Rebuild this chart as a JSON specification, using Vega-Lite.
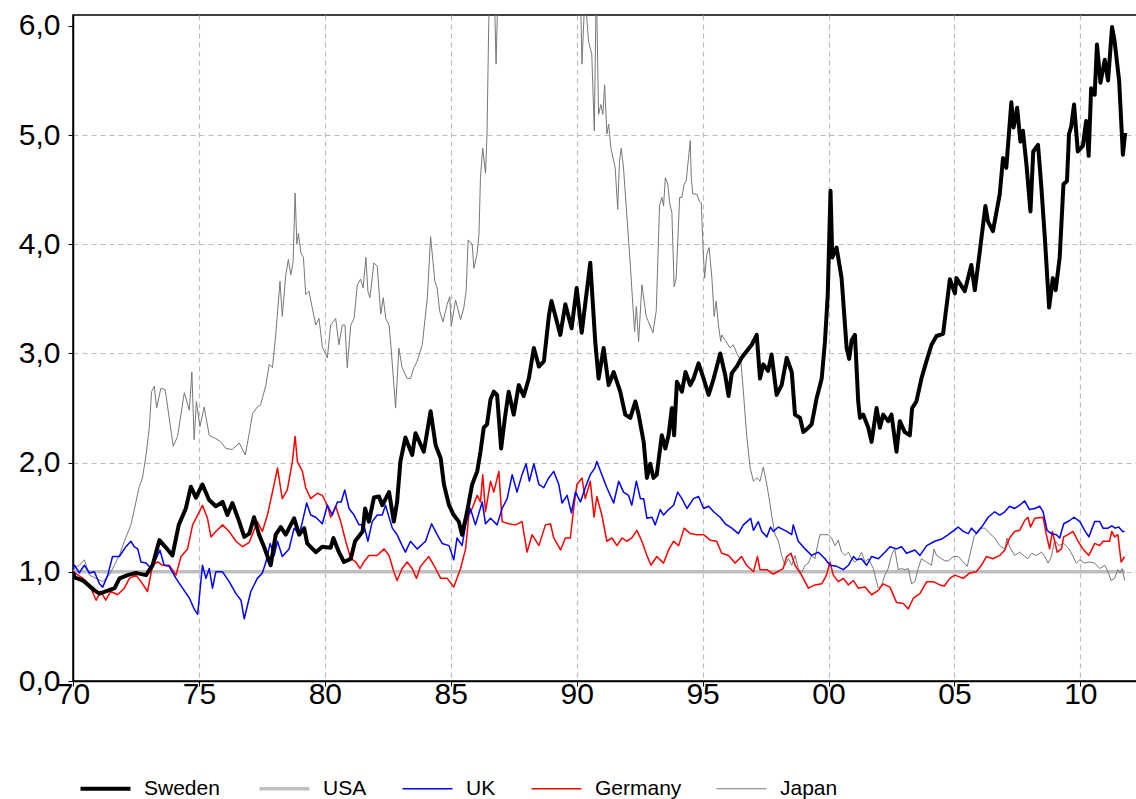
{
  "$schema": "https://vega.github.io/schema/vega-lite/v6.json",
  "width": 1064,
  "height": 666,
  "padding": {"left": 0, "top": 10, "right": 0, "bottom": 0},
  "background": "white",
  "config": {
    "font": "Liberation Sans",
    "view": {"stroke": "black", "strokeWidth": 1.5},
    "axis": {"domainColor": "black", "domainWidth": 1.5, "tickColor": "black", "tickSize": 5, "labelColor": "black", "labelFontSize": 30, "labelFont": "Liberation Sans", "gridColor": "#bdbdbd", "gridDash": [5, 4], "gridWidth": 1.2},
    "legend": {"orient": "none", "legendX": 22, "legendY": 763, "direction": "horizontal", "symbolType": "stroke", "symbolSize": 2500, "labelFontSize": 21, "labelFont": "Liberation Sans", "labelColor": "black", "columnPadding": 32, "labelOffset": 28, "title": null}
  },
  "encoding": {
    "x": {"field": "year", "type": "quantitative", "scale": {"domain": [1970, 2012.25], "nice": false, "zero": false},
      "axis": {"title": null, "values": [1970, 1975, 1980, 1985, 1990, 1995, 2000, 2005, 2010], "labelExpr": "format(datum.value % 100, '02d')", "grid": true, "gridOpacity": {"condition": {"test": "datum.value == 1970", "value": 0}, "value": 1}, "labelPadding": -7, "labelFlush": false}},
    "y": {"field": "value", "type": "quantitative", "scale": {"domain": [0, 6.1], "nice": false, "zero": false},
      "axis": {"title": null, "values": [0, 1, 2, 3, 4, 5, 6], "labelExpr": "replace(format(datum.value, '.1f'), '.', ',')", "grid": true, "gridOpacity": {"condition": {"test": "datum.value == 0 || datum.value == 6", "value": 0}, "value": 1}, "minExtent": 73, "maxExtent": 73, "labelPadding": 8}}
  },
  "layer": [
    {
      "data": {"values": [{"year": 1970.0, "value": 1.0}, {"year": 1980.0, "value": 1.0}, {"year": 1990.0, "value": 1.0}, {"year": 2000.0, "value": 1.0}, {"year": 2011.78, "value": 1.0}]},
      "mark": {"type": "line", "clip": true, "strokeJoin": "round", "strokeWidth": 3.5},
      "encoding": {
        "color": {"datum": "USA", "type": "nominal", "scale": {"domain": ["Sweden", "USA", "UK", "Germany", "Japan"], "range": ["#000000", "#bfbfbf", "#0000ff", "#ff0000", "#777777"]},
          "legend": {"encode": {"symbols": {"update": {"strokeWidth": {"signal": "datum.value === 'Sweden' ? 4 : datum.value === 'USA' ? 3.5 : datum.value === 'Japan' ? 1 : 1.5"}}}}}}
      }
    },
    {
      "data": {"values": [
        {"year": 1970.0, "value": 1.0}, {"year": 1970.06, "value": 1.03}, {"year": 1970.25, "value": 1.06}, {"year": 1970.45, "value": 1.11}, {"year": 1970.65, "value": 0.97}, {"year": 1970.92, "value": 0.94}, {"year": 1971.18, "value": 0.91}, {"year": 1971.44, "value": 0.97}, {"year": 1971.64, "value": 1.06}, {"year": 1971.84, "value": 1.15}, {"year": 1972.04, "value": 1.28}, {"year": 1972.3, "value": 1.43}, {"year": 1972.5, "value": 1.64}, {"year": 1972.63, "value": 1.78}, {"year": 1972.76, "value": 1.86}, {"year": 1972.9, "value": 2.07}, {"year": 1973.03, "value": 2.32}, {"year": 1973.12, "value": 2.65}, {"year": 1973.23, "value": 2.7}, {"year": 1973.32, "value": 2.5}, {"year": 1973.49, "value": 2.68}, {"year": 1973.66, "value": 2.67}, {"year": 1973.82, "value": 2.41}, {"year": 1973.98, "value": 2.15}, {"year": 1974.15, "value": 2.24}, {"year": 1974.42, "value": 2.64}, {"year": 1974.62, "value": 2.48}, {"year": 1974.72, "value": 2.83}, {"year": 1974.81, "value": 2.21}, {"year": 1974.9, "value": 2.56}, {"year": 1975.04, "value": 2.33}, {"year": 1975.21, "value": 2.51}, {"year": 1975.41, "value": 2.25}, {"year": 1975.67, "value": 2.22}, {"year": 1975.87, "value": 2.19}, {"year": 1976.07, "value": 2.13}, {"year": 1976.33, "value": 2.12}, {"year": 1976.6, "value": 2.18}, {"year": 1976.84, "value": 2.07}, {"year": 1977.0, "value": 2.27}, {"year": 1977.13, "value": 2.45}, {"year": 1977.32, "value": 2.51}, {"year": 1977.45, "value": 2.53}, {"year": 1977.66, "value": 2.71}, {"year": 1977.79, "value": 2.9}, {"year": 1977.92, "value": 2.87}, {"year": 1978.05, "value": 3.17}, {"year": 1978.22, "value": 3.66}, {"year": 1978.31, "value": 3.34}, {"year": 1978.45, "value": 3.72}, {"year": 1978.55, "value": 3.86}, {"year": 1978.65, "value": 3.72}, {"year": 1978.74, "value": 3.84}, {"year": 1978.82, "value": 4.47}, {"year": 1978.89, "value": 4.0}, {"year": 1978.95, "value": 4.1}, {"year": 1979.05, "value": 3.92}, {"year": 1979.15, "value": 3.88}, {"year": 1979.24, "value": 3.54}, {"year": 1979.37, "value": 3.57}, {"year": 1979.5, "value": 3.42}, {"year": 1979.64, "value": 3.26}, {"year": 1979.77, "value": 3.32}, {"year": 1979.9, "value": 3.06}, {"year": 1980.1, "value": 2.96}, {"year": 1980.23, "value": 3.26}, {"year": 1980.43, "value": 3.32}, {"year": 1980.56, "value": 3.08}, {"year": 1980.69, "value": 3.26}, {"year": 1980.8, "value": 3.26}, {"year": 1980.89, "value": 2.87}, {"year": 1981.03, "value": 3.26}, {"year": 1981.16, "value": 3.32}, {"year": 1981.29, "value": 3.63}, {"year": 1981.42, "value": 3.68}, {"year": 1981.52, "value": 3.6}, {"year": 1981.63, "value": 3.88}, {"year": 1981.71, "value": 3.57}, {"year": 1981.79, "value": 3.51}, {"year": 1981.95, "value": 3.83}, {"year": 1982.08, "value": 3.8}, {"year": 1982.22, "value": 3.36}, {"year": 1982.32, "value": 3.51}, {"year": 1982.42, "value": 3.32}, {"year": 1982.55, "value": 3.26}, {"year": 1982.62, "value": 3.08}, {"year": 1982.81, "value": 2.5}, {"year": 1982.94, "value": 3.05}, {"year": 1983.07, "value": 2.87}, {"year": 1983.27, "value": 2.77}, {"year": 1983.4, "value": 2.77}, {"year": 1983.54, "value": 2.87}, {"year": 1983.67, "value": 2.93}, {"year": 1983.87, "value": 3.08}, {"year": 1984.07, "value": 3.51}, {"year": 1984.2, "value": 4.07}, {"year": 1984.37, "value": 3.66}, {"year": 1984.46, "value": 3.6}, {"year": 1984.56, "value": 3.39}, {"year": 1984.69, "value": 3.29}, {"year": 1984.86, "value": 3.45}, {"year": 1984.96, "value": 3.52}, {"year": 1985.02, "value": 3.25}, {"year": 1985.19, "value": 3.49}, {"year": 1985.39, "value": 3.31}, {"year": 1985.52, "value": 3.42}, {"year": 1985.61, "value": 3.57}, {"year": 1985.69, "value": 4.04}, {"year": 1985.85, "value": 4.0}, {"year": 1985.92, "value": 3.78}, {"year": 1986.05, "value": 3.92}, {"year": 1986.12, "value": 4.09}, {"year": 1986.18, "value": 4.61}, {"year": 1986.27, "value": 4.88}, {"year": 1986.38, "value": 4.65}, {"year": 1986.44, "value": 5.01}, {"year": 1986.51, "value": 6.05}, {"year": 1986.6, "value": 6.6}, {"year": 1986.72, "value": 6.4}, {"year": 1986.8, "value": 5.65}, {"year": 1986.9, "value": 6.6}, {"year": 1987.2, "value": 7.2}, {"year": 1987.6, "value": 7.8}, {"year": 1988.0, "value": 8.0}, {"year": 1988.5, "value": 8.3}, {"year": 1989.0, "value": 8.6}, {"year": 1989.5, "value": 8.9}, {"year": 1989.9, "value": 8.4}, {"year": 1990.1, "value": 6.9}, {"year": 1990.21, "value": 5.65}, {"year": 1990.33, "value": 6.3}, {"year": 1990.47, "value": 5.86}, {"year": 1990.6, "value": 5.74}, {"year": 1990.7, "value": 5.04}, {"year": 1990.78, "value": 6.4}, {"year": 1990.87, "value": 5.19}, {"year": 1990.96, "value": 5.28}, {"year": 1991.04, "value": 5.19}, {"year": 1991.11, "value": 5.46}, {"year": 1991.2, "value": 5.01}, {"year": 1991.27, "value": 5.1}, {"year": 1991.36, "value": 4.88}, {"year": 1991.53, "value": 4.7}, {"year": 1991.63, "value": 4.32}, {"year": 1991.7, "value": 4.76}, {"year": 1991.77, "value": 4.88}, {"year": 1991.86, "value": 4.7}, {"year": 1991.99, "value": 4.27}, {"year": 1992.13, "value": 3.81}, {"year": 1992.23, "value": 3.45}, {"year": 1992.3, "value": 3.2}, {"year": 1992.37, "value": 3.43}, {"year": 1992.46, "value": 3.11}, {"year": 1992.59, "value": 3.63}, {"year": 1992.76, "value": 3.34}, {"year": 1992.85, "value": 3.29}, {"year": 1993.03, "value": 3.19}, {"year": 1993.16, "value": 3.39}, {"year": 1993.29, "value": 4.35}, {"year": 1993.38, "value": 4.43}, {"year": 1993.45, "value": 4.35}, {"year": 1993.52, "value": 4.61}, {"year": 1993.62, "value": 4.55}, {"year": 1993.69, "value": 4.38}, {"year": 1993.78, "value": 4.29}, {"year": 1993.87, "value": 3.61}, {"year": 1993.95, "value": 3.69}, {"year": 1994.09, "value": 4.43}, {"year": 1994.18, "value": 4.43}, {"year": 1994.27, "value": 4.55}, {"year": 1994.35, "value": 4.58}, {"year": 1994.51, "value": 4.95}, {"year": 1994.55, "value": 4.61}, {"year": 1994.61, "value": 4.46}, {"year": 1994.77, "value": 4.46}, {"year": 1994.88, "value": 4.39}, {"year": 1994.95, "value": 4.38}, {"year": 1995.0, "value": 4.06}, {"year": 1995.08, "value": 3.69}, {"year": 1995.17, "value": 3.91}, {"year": 1995.26, "value": 3.97}, {"year": 1995.37, "value": 3.69}, {"year": 1995.46, "value": 3.34}, {"year": 1995.54, "value": 3.48}, {"year": 1995.63, "value": 3.26}, {"year": 1995.72, "value": 3.11}, {"year": 1995.76, "value": 3.17}, {"year": 1995.9, "value": 3.12}, {"year": 1996.09, "value": 3.05}, {"year": 1996.22, "value": 3.08}, {"year": 1996.36, "value": 3.0}, {"year": 1996.52, "value": 2.93}, {"year": 1996.62, "value": 2.65}, {"year": 1996.75, "value": 2.25}, {"year": 1996.89, "value": 1.95}, {"year": 1997.02, "value": 1.83}, {"year": 1997.15, "value": 1.86}, {"year": 1997.28, "value": 1.83}, {"year": 1997.41, "value": 1.96}, {"year": 1997.55, "value": 1.8}, {"year": 1997.66, "value": 1.65}, {"year": 1997.74, "value": 1.52}, {"year": 1997.88, "value": 1.34}, {"year": 1998.01, "value": 1.28}, {"year": 1998.14, "value": 1.15}, {"year": 1998.27, "value": 1.06}, {"year": 1998.41, "value": 1.12}, {"year": 1998.54, "value": 1.06}, {"year": 1998.67, "value": 1.15}, {"year": 1998.8, "value": 1.03}, {"year": 1998.93, "value": 0.99}, {"year": 1999.07, "value": 1.06}, {"year": 1999.2, "value": 1.08}, {"year": 1999.33, "value": 1.15}, {"year": 1999.46, "value": 1.12}, {"year": 1999.6, "value": 1.28}, {"year": 1999.66, "value": 1.34}, {"year": 1999.8, "value": 1.34}, {"year": 1999.99, "value": 1.34}, {"year": 2000.12, "value": 1.31}, {"year": 2000.26, "value": 1.24}, {"year": 2000.39, "value": 1.29}, {"year": 2000.52, "value": 1.18}, {"year": 2000.66, "value": 1.15}, {"year": 2000.79, "value": 1.18}, {"year": 2000.92, "value": 1.12}, {"year": 2001.05, "value": 1.09}, {"year": 2001.18, "value": 1.12}, {"year": 2001.31, "value": 1.18}, {"year": 2001.45, "value": 1.09}, {"year": 2001.58, "value": 1.12}, {"year": 2001.78, "value": 1.03}, {"year": 2001.91, "value": 0.91}, {"year": 2001.98, "value": 0.85}, {"year": 2002.11, "value": 0.88}, {"year": 2002.24, "value": 0.97}, {"year": 2002.37, "value": 1.03}, {"year": 2002.5, "value": 1.15}, {"year": 2002.63, "value": 1.21}, {"year": 2002.77, "value": 1.02}, {"year": 2002.9, "value": 1.03}, {"year": 2003.03, "value": 1.02}, {"year": 2003.17, "value": 1.03}, {"year": 2003.3, "value": 0.89}, {"year": 2003.43, "value": 0.91}, {"year": 2003.56, "value": 1.03}, {"year": 2003.69, "value": 1.12}, {"year": 2003.89, "value": 1.09}, {"year": 2004.09, "value": 1.06}, {"year": 2004.19, "value": 1.21}, {"year": 2004.29, "value": 1.15}, {"year": 2004.49, "value": 1.12}, {"year": 2004.62, "value": 1.1}, {"year": 2004.76, "value": 1.1}, {"year": 2004.96, "value": 1.14}, {"year": 2005.15, "value": 1.14}, {"year": 2005.35, "value": 1.09}, {"year": 2005.51, "value": 1.05}, {"year": 2005.61, "value": 1.15}, {"year": 2005.78, "value": 1.32}, {"year": 2005.9, "value": 1.37}, {"year": 2006.01, "value": 1.4}, {"year": 2006.21, "value": 1.4}, {"year": 2006.41, "value": 1.35}, {"year": 2006.6, "value": 1.31}, {"year": 2006.8, "value": 1.24}, {"year": 2007.0, "value": 1.21}, {"year": 2007.09, "value": 1.31}, {"year": 2007.19, "value": 1.23}, {"year": 2007.39, "value": 1.15}, {"year": 2007.59, "value": 1.18}, {"year": 2007.79, "value": 1.14}, {"year": 2007.92, "value": 1.12}, {"year": 2008.06, "value": 1.17}, {"year": 2008.26, "value": 1.15}, {"year": 2008.46, "value": 1.18}, {"year": 2008.59, "value": 1.14}, {"year": 2008.72, "value": 1.08}, {"year": 2008.85, "value": 1.14}, {"year": 2008.98, "value": 1.29}, {"year": 2009.15, "value": 1.24}, {"year": 2009.34, "value": 1.26}, {"year": 2009.55, "value": 1.21}, {"year": 2009.71, "value": 1.14}, {"year": 2009.84, "value": 1.08}, {"year": 2009.98, "value": 1.11}, {"year": 2010.17, "value": 1.08}, {"year": 2010.37, "value": 1.09}, {"year": 2010.57, "value": 1.08}, {"year": 2010.77, "value": 1.03}, {"year": 2010.97, "value": 1.06}, {"year": 2011.1, "value": 1.0}, {"year": 2011.22, "value": 0.92}, {"year": 2011.36, "value": 0.94}, {"year": 2011.49, "value": 1.02}, {"year": 2011.58, "value": 0.99}, {"year": 2011.66, "value": 1.03}, {"year": 2011.76, "value": 0.92}
      ]},
      "mark": {"type": "line", "clip": true, "strokeJoin": "round", "strokeWidth": 1},
      "encoding": {"color": {"datum": "Japan", "type": "nominal"}}
    },
    {
      "data": {"values": [
        {"year": 1970.0, "value": 1.0}, {"year": 1970.4, "value": 0.94}, {"year": 1970.65, "value": 0.88}, {"year": 1970.92, "value": 0.74}, {"year": 1971.1, "value": 0.82}, {"year": 1971.3, "value": 0.74}, {"year": 1971.5, "value": 0.82}, {"year": 1971.77, "value": 0.79}, {"year": 1972.04, "value": 0.85}, {"year": 1972.24, "value": 0.94}, {"year": 1972.5, "value": 0.97}, {"year": 1972.7, "value": 0.91}, {"year": 1972.96, "value": 0.82}, {"year": 1973.16, "value": 1.06}, {"year": 1973.36, "value": 1.09}, {"year": 1973.56, "value": 1.06}, {"year": 1973.82, "value": 1.06}, {"year": 1974.09, "value": 0.97}, {"year": 1974.29, "value": 1.14}, {"year": 1974.55, "value": 1.21}, {"year": 1974.75, "value": 1.43}, {"year": 1974.95, "value": 1.52}, {"year": 1975.14, "value": 1.61}, {"year": 1975.34, "value": 1.49}, {"year": 1975.48, "value": 1.32}, {"year": 1975.67, "value": 1.37}, {"year": 1975.94, "value": 1.43}, {"year": 1976.2, "value": 1.37}, {"year": 1976.47, "value": 1.28}, {"year": 1976.73, "value": 1.23}, {"year": 1977.0, "value": 1.27}, {"year": 1977.32, "value": 1.46}, {"year": 1977.52, "value": 1.37}, {"year": 1977.72, "value": 1.52}, {"year": 1977.92, "value": 1.73}, {"year": 1978.12, "value": 1.95}, {"year": 1978.31, "value": 1.67}, {"year": 1978.51, "value": 1.75}, {"year": 1978.71, "value": 2.01}, {"year": 1978.82, "value": 2.24}, {"year": 1978.91, "value": 2.01}, {"year": 1979.11, "value": 1.92}, {"year": 1979.24, "value": 1.77}, {"year": 1979.44, "value": 1.67}, {"year": 1979.7, "value": 1.72}, {"year": 1979.9, "value": 1.7}, {"year": 1980.1, "value": 1.61}, {"year": 1980.23, "value": 1.5}, {"year": 1980.43, "value": 1.6}, {"year": 1980.63, "value": 1.46}, {"year": 1980.83, "value": 1.28}, {"year": 1981.03, "value": 1.12}, {"year": 1981.23, "value": 1.09}, {"year": 1981.4, "value": 1.03}, {"year": 1981.55, "value": 1.09}, {"year": 1981.75, "value": 1.15}, {"year": 1982.08, "value": 1.15}, {"year": 1982.35, "value": 1.21}, {"year": 1982.55, "value": 1.15}, {"year": 1982.74, "value": 1.0}, {"year": 1982.87, "value": 0.92}, {"year": 1983.07, "value": 1.03}, {"year": 1983.27, "value": 1.09}, {"year": 1983.47, "value": 1.03}, {"year": 1983.64, "value": 0.94}, {"year": 1983.8, "value": 1.05}, {"year": 1984.13, "value": 1.14}, {"year": 1984.33, "value": 1.06}, {"year": 1984.6, "value": 0.94}, {"year": 1984.86, "value": 0.94}, {"year": 1985.12, "value": 0.86}, {"year": 1985.39, "value": 1.03}, {"year": 1985.59, "value": 1.21}, {"year": 1985.72, "value": 1.52}, {"year": 1985.85, "value": 1.58}, {"year": 1986.05, "value": 1.7}, {"year": 1986.18, "value": 1.64}, {"year": 1986.27, "value": 1.89}, {"year": 1986.38, "value": 1.55}, {"year": 1986.58, "value": 1.83}, {"year": 1986.71, "value": 1.73}, {"year": 1986.91, "value": 1.92}, {"year": 1987.04, "value": 1.46}, {"year": 1987.3, "value": 1.44}, {"year": 1987.57, "value": 1.43}, {"year": 1987.83, "value": 1.46}, {"year": 1988.03, "value": 1.18}, {"year": 1988.23, "value": 1.34}, {"year": 1988.5, "value": 1.24}, {"year": 1988.76, "value": 1.43}, {"year": 1988.96, "value": 1.44}, {"year": 1989.09, "value": 1.31}, {"year": 1989.36, "value": 1.2}, {"year": 1989.55, "value": 1.31}, {"year": 1989.75, "value": 1.31}, {"year": 1989.88, "value": 1.58}, {"year": 1990.01, "value": 1.8}, {"year": 1990.21, "value": 1.86}, {"year": 1990.34, "value": 1.67}, {"year": 1990.54, "value": 1.83}, {"year": 1990.69, "value": 1.5}, {"year": 1990.8, "value": 1.69}, {"year": 1991.0, "value": 1.52}, {"year": 1991.2, "value": 1.28}, {"year": 1991.4, "value": 1.31}, {"year": 1991.6, "value": 1.24}, {"year": 1991.8, "value": 1.31}, {"year": 1991.99, "value": 1.28}, {"year": 1992.19, "value": 1.31}, {"year": 1992.39, "value": 1.38}, {"year": 1992.59, "value": 1.28}, {"year": 1992.79, "value": 1.15}, {"year": 1992.95, "value": 1.06}, {"year": 1993.18, "value": 1.14}, {"year": 1993.45, "value": 1.08}, {"year": 1993.65, "value": 1.2}, {"year": 1993.85, "value": 1.28}, {"year": 1994.05, "value": 1.24}, {"year": 1994.27, "value": 1.4}, {"year": 1994.51, "value": 1.35}, {"year": 1994.77, "value": 1.34}, {"year": 1995.04, "value": 1.34}, {"year": 1995.3, "value": 1.29}, {"year": 1995.56, "value": 1.28}, {"year": 1995.76, "value": 1.17}, {"year": 1996.03, "value": 1.15}, {"year": 1996.29, "value": 1.08}, {"year": 1996.55, "value": 1.14}, {"year": 1996.75, "value": 1.06}, {"year": 1997.02, "value": 1.0}, {"year": 1997.18, "value": 1.14}, {"year": 1997.28, "value": 1.02}, {"year": 1997.55, "value": 1.02}, {"year": 1997.81, "value": 0.98}, {"year": 1998.2, "value": 1.03}, {"year": 1998.34, "value": 1.14}, {"year": 1998.51, "value": 1.17}, {"year": 1998.67, "value": 1.06}, {"year": 1998.93, "value": 0.97}, {"year": 1999.2, "value": 0.85}, {"year": 1999.46, "value": 0.88}, {"year": 1999.73, "value": 0.89}, {"year": 1999.92, "value": 0.97}, {"year": 2000.06, "value": 1.09}, {"year": 2000.19, "value": 0.97}, {"year": 2000.39, "value": 0.91}, {"year": 2000.59, "value": 0.94}, {"year": 2000.79, "value": 0.88}, {"year": 2000.99, "value": 0.92}, {"year": 2001.18, "value": 0.85}, {"year": 2001.45, "value": 0.86}, {"year": 2001.71, "value": 0.79}, {"year": 2001.98, "value": 0.83}, {"year": 2002.17, "value": 0.89}, {"year": 2002.44, "value": 0.86}, {"year": 2002.7, "value": 0.72}, {"year": 2002.97, "value": 0.71}, {"year": 2003.17, "value": 0.66}, {"year": 2003.37, "value": 0.76}, {"year": 2003.63, "value": 0.8}, {"year": 2003.9, "value": 0.91}, {"year": 2004.16, "value": 0.91}, {"year": 2004.42, "value": 0.88}, {"year": 2004.6, "value": 0.87}, {"year": 2004.82, "value": 0.94}, {"year": 2005.02, "value": 0.97}, {"year": 2005.35, "value": 0.94}, {"year": 2005.61, "value": 0.99}, {"year": 2005.87, "value": 1.0}, {"year": 2006.07, "value": 1.06}, {"year": 2006.27, "value": 1.14}, {"year": 2006.53, "value": 1.12}, {"year": 2006.8, "value": 1.15}, {"year": 2007.0, "value": 1.2}, {"year": 2007.19, "value": 1.31}, {"year": 2007.39, "value": 1.37}, {"year": 2007.59, "value": 1.38}, {"year": 2007.79, "value": 1.47}, {"year": 2007.92, "value": 1.5}, {"year": 2008.02, "value": 1.41}, {"year": 2008.19, "value": 1.49}, {"year": 2008.52, "value": 1.5}, {"year": 2008.65, "value": 1.34}, {"year": 2008.78, "value": 1.21}, {"year": 2008.89, "value": 1.37}, {"year": 2009.08, "value": 1.18}, {"year": 2009.25, "value": 1.21}, {"year": 2009.34, "value": 1.32}, {"year": 2009.51, "value": 1.34}, {"year": 2009.71, "value": 1.37}, {"year": 2009.91, "value": 1.28}, {"year": 2010.1, "value": 1.21}, {"year": 2010.34, "value": 1.15}, {"year": 2010.57, "value": 1.26}, {"year": 2010.77, "value": 1.24}, {"year": 2010.9, "value": 1.28}, {"year": 2011.16, "value": 1.28}, {"year": 2011.25, "value": 1.37}, {"year": 2011.36, "value": 1.32}, {"year": 2011.49, "value": 1.34}, {"year": 2011.62, "value": 1.09}, {"year": 2011.76, "value": 1.14}
      ]},
      "mark": {"type": "line", "clip": true, "strokeJoin": "round", "strokeWidth": 1.5},
      "encoding": {"color": {"datum": "Germany", "type": "nominal"}}
    },
    {
      "data": {"values": [
        {"year": 1970.0, "value": 1.03}, {"year": 1970.06, "value": 1.06}, {"year": 1970.25, "value": 0.99}, {"year": 1970.45, "value": 1.06}, {"year": 1970.65, "value": 0.99}, {"year": 1970.85, "value": 1.0}, {"year": 1971.05, "value": 0.89}, {"year": 1971.18, "value": 0.86}, {"year": 1971.38, "value": 0.97}, {"year": 1971.57, "value": 1.14}, {"year": 1971.84, "value": 1.14}, {"year": 1972.1, "value": 1.23}, {"year": 1972.3, "value": 1.28}, {"year": 1972.43, "value": 1.23}, {"year": 1972.57, "value": 1.21}, {"year": 1972.7, "value": 1.09}, {"year": 1972.9, "value": 1.08}, {"year": 1973.1, "value": 1.03}, {"year": 1973.3, "value": 1.12}, {"year": 1973.45, "value": 1.2}, {"year": 1973.62, "value": 1.06}, {"year": 1973.82, "value": 1.05}, {"year": 1974.09, "value": 0.94}, {"year": 1974.35, "value": 0.85}, {"year": 1974.62, "value": 0.76}, {"year": 1974.81, "value": 0.66}, {"year": 1974.95, "value": 0.61}, {"year": 1975.14, "value": 1.06}, {"year": 1975.28, "value": 0.94}, {"year": 1975.41, "value": 1.03}, {"year": 1975.54, "value": 0.85}, {"year": 1975.67, "value": 1.0}, {"year": 1975.94, "value": 1.0}, {"year": 1976.2, "value": 0.91}, {"year": 1976.47, "value": 0.8}, {"year": 1976.67, "value": 0.74}, {"year": 1976.8, "value": 0.57}, {"year": 1977.06, "value": 0.82}, {"year": 1977.32, "value": 0.94}, {"year": 1977.52, "value": 0.99}, {"year": 1977.66, "value": 1.09}, {"year": 1977.83, "value": 1.26}, {"year": 1977.99, "value": 1.15}, {"year": 1978.12, "value": 1.28}, {"year": 1978.31, "value": 1.14}, {"year": 1978.58, "value": 1.21}, {"year": 1978.78, "value": 1.4}, {"year": 1978.98, "value": 1.34}, {"year": 1979.11, "value": 1.46}, {"year": 1979.28, "value": 1.63}, {"year": 1979.44, "value": 1.52}, {"year": 1979.64, "value": 1.5}, {"year": 1979.9, "value": 1.44}, {"year": 1980.1, "value": 1.61}, {"year": 1980.3, "value": 1.52}, {"year": 1980.5, "value": 1.64}, {"year": 1980.65, "value": 1.64}, {"year": 1980.79, "value": 1.75}, {"year": 1980.96, "value": 1.58}, {"year": 1981.16, "value": 1.52}, {"year": 1981.36, "value": 1.43}, {"year": 1981.55, "value": 1.43}, {"year": 1981.71, "value": 1.28}, {"year": 1981.88, "value": 1.46}, {"year": 1982.08, "value": 1.52}, {"year": 1982.28, "value": 1.52}, {"year": 1982.41, "value": 1.61}, {"year": 1982.55, "value": 1.5}, {"year": 1982.68, "value": 1.4}, {"year": 1982.87, "value": 1.34}, {"year": 1983.07, "value": 1.24}, {"year": 1983.2, "value": 1.18}, {"year": 1983.4, "value": 1.28}, {"year": 1983.67, "value": 1.21}, {"year": 1984.0, "value": 1.28}, {"year": 1984.24, "value": 1.44}, {"year": 1984.46, "value": 1.34}, {"year": 1984.66, "value": 1.26}, {"year": 1984.93, "value": 1.24}, {"year": 1985.12, "value": 1.11}, {"year": 1985.25, "value": 1.31}, {"year": 1985.45, "value": 1.24}, {"year": 1985.59, "value": 1.43}, {"year": 1985.78, "value": 1.58}, {"year": 1985.98, "value": 1.43}, {"year": 1986.25, "value": 1.64}, {"year": 1986.38, "value": 1.44}, {"year": 1986.58, "value": 1.49}, {"year": 1986.84, "value": 1.43}, {"year": 1987.04, "value": 1.58}, {"year": 1987.24, "value": 1.67}, {"year": 1987.44, "value": 1.89}, {"year": 1987.63, "value": 1.73}, {"year": 1987.83, "value": 1.89}, {"year": 1987.99, "value": 1.99}, {"year": 1988.12, "value": 1.83}, {"year": 1988.3, "value": 1.99}, {"year": 1988.5, "value": 1.8}, {"year": 1988.69, "value": 1.77}, {"year": 1988.89, "value": 1.86}, {"year": 1989.09, "value": 1.92}, {"year": 1989.29, "value": 1.8}, {"year": 1989.42, "value": 1.63}, {"year": 1989.62, "value": 1.7}, {"year": 1989.79, "value": 1.54}, {"year": 1989.95, "value": 1.73}, {"year": 1990.15, "value": 1.64}, {"year": 1990.34, "value": 1.77}, {"year": 1990.54, "value": 1.89}, {"year": 1990.72, "value": 1.95}, {"year": 1990.8, "value": 2.01}, {"year": 1991.0, "value": 1.89}, {"year": 1991.2, "value": 1.77}, {"year": 1991.47, "value": 1.63}, {"year": 1991.67, "value": 1.83}, {"year": 1991.86, "value": 1.73}, {"year": 1992.06, "value": 1.7}, {"year": 1992.19, "value": 1.61}, {"year": 1992.37, "value": 1.83}, {"year": 1992.53, "value": 1.67}, {"year": 1992.66, "value": 1.67}, {"year": 1992.79, "value": 1.49}, {"year": 1992.99, "value": 1.5}, {"year": 1993.12, "value": 1.43}, {"year": 1993.32, "value": 1.57}, {"year": 1993.45, "value": 1.52}, {"year": 1993.65, "value": 1.57}, {"year": 1993.85, "value": 1.61}, {"year": 1994.01, "value": 1.73}, {"year": 1994.18, "value": 1.67}, {"year": 1994.38, "value": 1.58}, {"year": 1994.64, "value": 1.67}, {"year": 1994.84, "value": 1.69}, {"year": 1995.04, "value": 1.58}, {"year": 1995.24, "value": 1.6}, {"year": 1995.44, "value": 1.55}, {"year": 1995.7, "value": 1.5}, {"year": 1995.9, "value": 1.44}, {"year": 1996.16, "value": 1.4}, {"year": 1996.42, "value": 1.35}, {"year": 1996.62, "value": 1.43}, {"year": 1996.91, "value": 1.49}, {"year": 1997.02, "value": 1.38}, {"year": 1997.21, "value": 1.46}, {"year": 1997.35, "value": 1.37}, {"year": 1997.55, "value": 1.32}, {"year": 1997.7, "value": 1.41}, {"year": 1997.81, "value": 1.37}, {"year": 1998.01, "value": 1.41}, {"year": 1998.34, "value": 1.37}, {"year": 1998.54, "value": 1.34}, {"year": 1998.6, "value": 1.43}, {"year": 1998.8, "value": 1.28}, {"year": 1999.07, "value": 1.21}, {"year": 1999.33, "value": 1.15}, {"year": 1999.6, "value": 1.18}, {"year": 1999.86, "value": 1.12}, {"year": 2000.06, "value": 1.06}, {"year": 2000.32, "value": 1.05}, {"year": 2000.59, "value": 1.02}, {"year": 2000.79, "value": 1.06}, {"year": 2000.99, "value": 1.14}, {"year": 2001.12, "value": 1.11}, {"year": 2001.31, "value": 1.12}, {"year": 2001.51, "value": 1.06}, {"year": 2001.71, "value": 1.14}, {"year": 2001.98, "value": 1.12}, {"year": 2002.24, "value": 1.18}, {"year": 2002.44, "value": 1.23}, {"year": 2002.7, "value": 1.21}, {"year": 2002.9, "value": 1.23}, {"year": 2003.1, "value": 1.17}, {"year": 2003.43, "value": 1.2}, {"year": 2003.63, "value": 1.15}, {"year": 2003.9, "value": 1.24}, {"year": 2004.22, "value": 1.28}, {"year": 2004.49, "value": 1.3}, {"year": 2004.76, "value": 1.34}, {"year": 2005.15, "value": 1.41}, {"year": 2005.35, "value": 1.37}, {"year": 2005.55, "value": 1.35}, {"year": 2005.68, "value": 1.4}, {"year": 2005.88, "value": 1.35}, {"year": 2006.08, "value": 1.41}, {"year": 2006.34, "value": 1.5}, {"year": 2006.6, "value": 1.55}, {"year": 2006.8, "value": 1.52}, {"year": 2007.0, "value": 1.55}, {"year": 2007.19, "value": 1.6}, {"year": 2007.39, "value": 1.58}, {"year": 2007.59, "value": 1.61}, {"year": 2007.79, "value": 1.65}, {"year": 2007.98, "value": 1.57}, {"year": 2008.19, "value": 1.58}, {"year": 2008.39, "value": 1.6}, {"year": 2008.52, "value": 1.55}, {"year": 2008.68, "value": 1.38}, {"year": 2008.85, "value": 1.35}, {"year": 2009.05, "value": 1.34}, {"year": 2009.18, "value": 1.31}, {"year": 2009.34, "value": 1.44}, {"year": 2009.58, "value": 1.47}, {"year": 2009.75, "value": 1.5}, {"year": 2009.98, "value": 1.46}, {"year": 2010.17, "value": 1.38}, {"year": 2010.34, "value": 1.32}, {"year": 2010.57, "value": 1.46}, {"year": 2010.77, "value": 1.46}, {"year": 2010.9, "value": 1.4}, {"year": 2011.1, "value": 1.4}, {"year": 2011.25, "value": 1.42}, {"year": 2011.38, "value": 1.4}, {"year": 2011.52, "value": 1.41}, {"year": 2011.68, "value": 1.37}, {"year": 2011.76, "value": 1.37}
      ]},
      "mark": {"type": "line", "clip": true, "strokeJoin": "round", "strokeWidth": 1.5},
      "encoding": {"color": {"datum": "UK", "type": "nominal"}}
    },
    {
      "data": {"values": [
        {"year": 1970.0, "value": 1.0}, {"year": 1970.06, "value": 0.95}, {"year": 1970.4, "value": 0.92}, {"year": 1970.85, "value": 0.83}, {"year": 1971.05, "value": 0.8}, {"year": 1971.3, "value": 0.82}, {"year": 1971.65, "value": 0.85}, {"year": 1971.85, "value": 0.94}, {"year": 1972.17, "value": 0.97}, {"year": 1972.5, "value": 0.99}, {"year": 1972.9, "value": 0.97}, {"year": 1973.16, "value": 1.06}, {"year": 1973.43, "value": 1.29}, {"year": 1973.7, "value": 1.22}, {"year": 1973.95, "value": 1.15}, {"year": 1974.2, "value": 1.43}, {"year": 1974.48, "value": 1.58}, {"year": 1974.68, "value": 1.78}, {"year": 1974.88, "value": 1.68}, {"year": 1975.14, "value": 1.8}, {"year": 1975.4, "value": 1.66}, {"year": 1975.67, "value": 1.6}, {"year": 1975.94, "value": 1.64}, {"year": 1976.13, "value": 1.52}, {"year": 1976.33, "value": 1.63}, {"year": 1976.6, "value": 1.46}, {"year": 1976.8, "value": 1.32}, {"year": 1977.0, "value": 1.35}, {"year": 1977.19, "value": 1.5}, {"year": 1977.39, "value": 1.34}, {"year": 1977.6, "value": 1.22}, {"year": 1977.85, "value": 1.06}, {"year": 1978.05, "value": 1.34}, {"year": 1978.25, "value": 1.41}, {"year": 1978.45, "value": 1.34}, {"year": 1978.58, "value": 1.4}, {"year": 1978.78, "value": 1.49}, {"year": 1978.98, "value": 1.34}, {"year": 1979.18, "value": 1.4}, {"year": 1979.3, "value": 1.26}, {"year": 1979.64, "value": 1.18}, {"year": 1979.9, "value": 1.23}, {"year": 1980.23, "value": 1.22}, {"year": 1980.34, "value": 1.31}, {"year": 1980.56, "value": 1.18}, {"year": 1980.76, "value": 1.09}, {"year": 1981.03, "value": 1.12}, {"year": 1981.2, "value": 1.28}, {"year": 1981.5, "value": 1.37}, {"year": 1981.6, "value": 1.58}, {"year": 1981.75, "value": 1.46}, {"year": 1981.95, "value": 1.68}, {"year": 1982.15, "value": 1.69}, {"year": 1982.28, "value": 1.61}, {"year": 1982.55, "value": 1.73}, {"year": 1982.74, "value": 1.46}, {"year": 1982.87, "value": 1.64}, {"year": 1983.0, "value": 2.01}, {"year": 1983.2, "value": 2.23}, {"year": 1983.47, "value": 2.07}, {"year": 1983.6, "value": 2.27}, {"year": 1983.93, "value": 2.1}, {"year": 1984.2, "value": 2.47}, {"year": 1984.4, "value": 2.16}, {"year": 1984.6, "value": 2.04}, {"year": 1984.73, "value": 1.8}, {"year": 1984.93, "value": 1.61}, {"year": 1985.12, "value": 1.52}, {"year": 1985.32, "value": 1.46}, {"year": 1985.45, "value": 1.34}, {"year": 1985.65, "value": 1.55}, {"year": 1985.85, "value": 1.8}, {"year": 1986.05, "value": 1.92}, {"year": 1986.18, "value": 2.1}, {"year": 1986.31, "value": 2.32}, {"year": 1986.44, "value": 2.35}, {"year": 1986.58, "value": 2.58}, {"year": 1986.71, "value": 2.65}, {"year": 1986.84, "value": 2.62}, {"year": 1987.0, "value": 2.13}, {"year": 1987.15, "value": 2.41}, {"year": 1987.3, "value": 2.65}, {"year": 1987.5, "value": 2.44}, {"year": 1987.7, "value": 2.71}, {"year": 1987.9, "value": 2.61}, {"year": 1988.1, "value": 2.77}, {"year": 1988.3, "value": 3.05}, {"year": 1988.5, "value": 2.88}, {"year": 1988.7, "value": 2.93}, {"year": 1988.9, "value": 3.35}, {"year": 1989.0, "value": 3.48}, {"year": 1989.35, "value": 3.17}, {"year": 1989.55, "value": 3.45}, {"year": 1989.8, "value": 3.23}, {"year": 1990.0, "value": 3.6}, {"year": 1990.2, "value": 3.19}, {"year": 1990.54, "value": 3.83}, {"year": 1990.74, "value": 3.1}, {"year": 1990.87, "value": 2.77}, {"year": 1991.07, "value": 3.05}, {"year": 1991.27, "value": 2.71}, {"year": 1991.47, "value": 2.83}, {"year": 1991.73, "value": 2.65}, {"year": 1991.93, "value": 2.44}, {"year": 1992.13, "value": 2.41}, {"year": 1992.33, "value": 2.56}, {"year": 1992.46, "value": 2.44}, {"year": 1992.66, "value": 2.19}, {"year": 1992.79, "value": 1.86}, {"year": 1992.92, "value": 1.99}, {"year": 1993.05, "value": 1.86}, {"year": 1993.18, "value": 1.89}, {"year": 1993.38, "value": 2.25}, {"year": 1993.52, "value": 2.13}, {"year": 1993.65, "value": 2.25}, {"year": 1993.78, "value": 2.5}, {"year": 1993.87, "value": 2.25}, {"year": 1993.98, "value": 2.74}, {"year": 1994.18, "value": 2.65}, {"year": 1994.32, "value": 2.83}, {"year": 1994.51, "value": 2.71}, {"year": 1994.64, "value": 2.77}, {"year": 1994.84, "value": 2.91}, {"year": 1995.04, "value": 2.77}, {"year": 1995.24, "value": 2.62}, {"year": 1995.44, "value": 2.77}, {"year": 1995.7, "value": 3.0}, {"year": 1995.9, "value": 2.8}, {"year": 1996.03, "value": 2.61}, {"year": 1996.16, "value": 2.82}, {"year": 1996.36, "value": 2.88}, {"year": 1996.55, "value": 2.96}, {"year": 1996.75, "value": 3.02}, {"year": 1996.95, "value": 3.08}, {"year": 1997.15, "value": 3.17}, {"year": 1997.28, "value": 2.77}, {"year": 1997.41, "value": 2.9}, {"year": 1997.6, "value": 2.84}, {"year": 1997.74, "value": 2.99}, {"year": 1997.94, "value": 2.62}, {"year": 1998.14, "value": 2.71}, {"year": 1998.34, "value": 2.96}, {"year": 1998.54, "value": 2.83}, {"year": 1998.67, "value": 2.44}, {"year": 1998.87, "value": 2.41}, {"year": 1999.0, "value": 2.28}, {"year": 1999.2, "value": 2.32}, {"year": 1999.33, "value": 2.35}, {"year": 1999.53, "value": 2.59}, {"year": 1999.73, "value": 2.77}, {"year": 1999.86, "value": 3.11}, {"year": 1999.97, "value": 3.54}, {"year": 2000.08, "value": 4.49}, {"year": 2000.15, "value": 3.88}, {"year": 2000.32, "value": 3.97}, {"year": 2000.52, "value": 3.69}, {"year": 2000.72, "value": 3.05}, {"year": 2000.82, "value": 2.95}, {"year": 2000.92, "value": 3.12}, {"year": 2001.05, "value": 3.17}, {"year": 2001.18, "value": 2.56}, {"year": 2001.25, "value": 2.41}, {"year": 2001.38, "value": 2.44}, {"year": 2001.58, "value": 2.32}, {"year": 2001.71, "value": 2.19}, {"year": 2001.91, "value": 2.5}, {"year": 2002.04, "value": 2.32}, {"year": 2002.17, "value": 2.44}, {"year": 2002.37, "value": 2.38}, {"year": 2002.5, "value": 2.44}, {"year": 2002.7, "value": 2.1}, {"year": 2002.83, "value": 2.38}, {"year": 2003.03, "value": 2.28}, {"year": 2003.23, "value": 2.25}, {"year": 2003.32, "value": 2.5}, {"year": 2003.49, "value": 2.56}, {"year": 2003.69, "value": 2.77}, {"year": 2003.89, "value": 2.93}, {"year": 2004.09, "value": 3.08}, {"year": 2004.29, "value": 3.16}, {"year": 2004.55, "value": 3.18}, {"year": 2004.68, "value": 3.42}, {"year": 2004.82, "value": 3.68}, {"year": 2005.02, "value": 3.55}, {"year": 2005.08, "value": 3.69}, {"year": 2005.41, "value": 3.57}, {"year": 2005.67, "value": 3.81}, {"year": 2005.81, "value": 3.58}, {"year": 2006.0, "value": 3.92}, {"year": 2006.23, "value": 4.35}, {"year": 2006.33, "value": 4.21}, {"year": 2006.53, "value": 4.12}, {"year": 2006.8, "value": 4.46}, {"year": 2006.93, "value": 4.79}, {"year": 2007.06, "value": 4.7}, {"year": 2007.26, "value": 5.3}, {"year": 2007.35, "value": 5.07}, {"year": 2007.49, "value": 5.25}, {"year": 2007.62, "value": 4.94}, {"year": 2007.72, "value": 5.04}, {"year": 2007.86, "value": 4.73}, {"year": 2008.02, "value": 4.3}, {"year": 2008.13, "value": 4.85}, {"year": 2008.32, "value": 4.91}, {"year": 2008.45, "value": 4.53}, {"year": 2008.59, "value": 4.06}, {"year": 2008.76, "value": 3.42}, {"year": 2008.91, "value": 3.69}, {"year": 2009.02, "value": 3.58}, {"year": 2009.18, "value": 3.88}, {"year": 2009.33, "value": 4.55}, {"year": 2009.47, "value": 4.58}, {"year": 2009.55, "value": 5.01}, {"year": 2009.64, "value": 5.08}, {"year": 2009.75, "value": 5.28}, {"year": 2009.9, "value": 4.85}, {"year": 2010.1, "value": 4.9}, {"year": 2010.23, "value": 5.13}, {"year": 2010.33, "value": 4.81}, {"year": 2010.43, "value": 5.43}, {"year": 2010.57, "value": 5.37}, {"year": 2010.66, "value": 5.83}, {"year": 2010.8, "value": 5.48}, {"year": 2010.97, "value": 5.69}, {"year": 2011.1, "value": 5.5}, {"year": 2011.26, "value": 5.99}, {"year": 2011.36, "value": 5.86}, {"year": 2011.54, "value": 5.5}, {"year": 2011.69, "value": 4.82}, {"year": 2011.78, "value": 5.02}
      ]},
      "mark": {"type": "line", "clip": true, "strokeJoin": "round", "strokeWidth": 4},
      "encoding": {"color": {"datum": "Sweden", "type": "nominal"}}
    }
  ]
}
